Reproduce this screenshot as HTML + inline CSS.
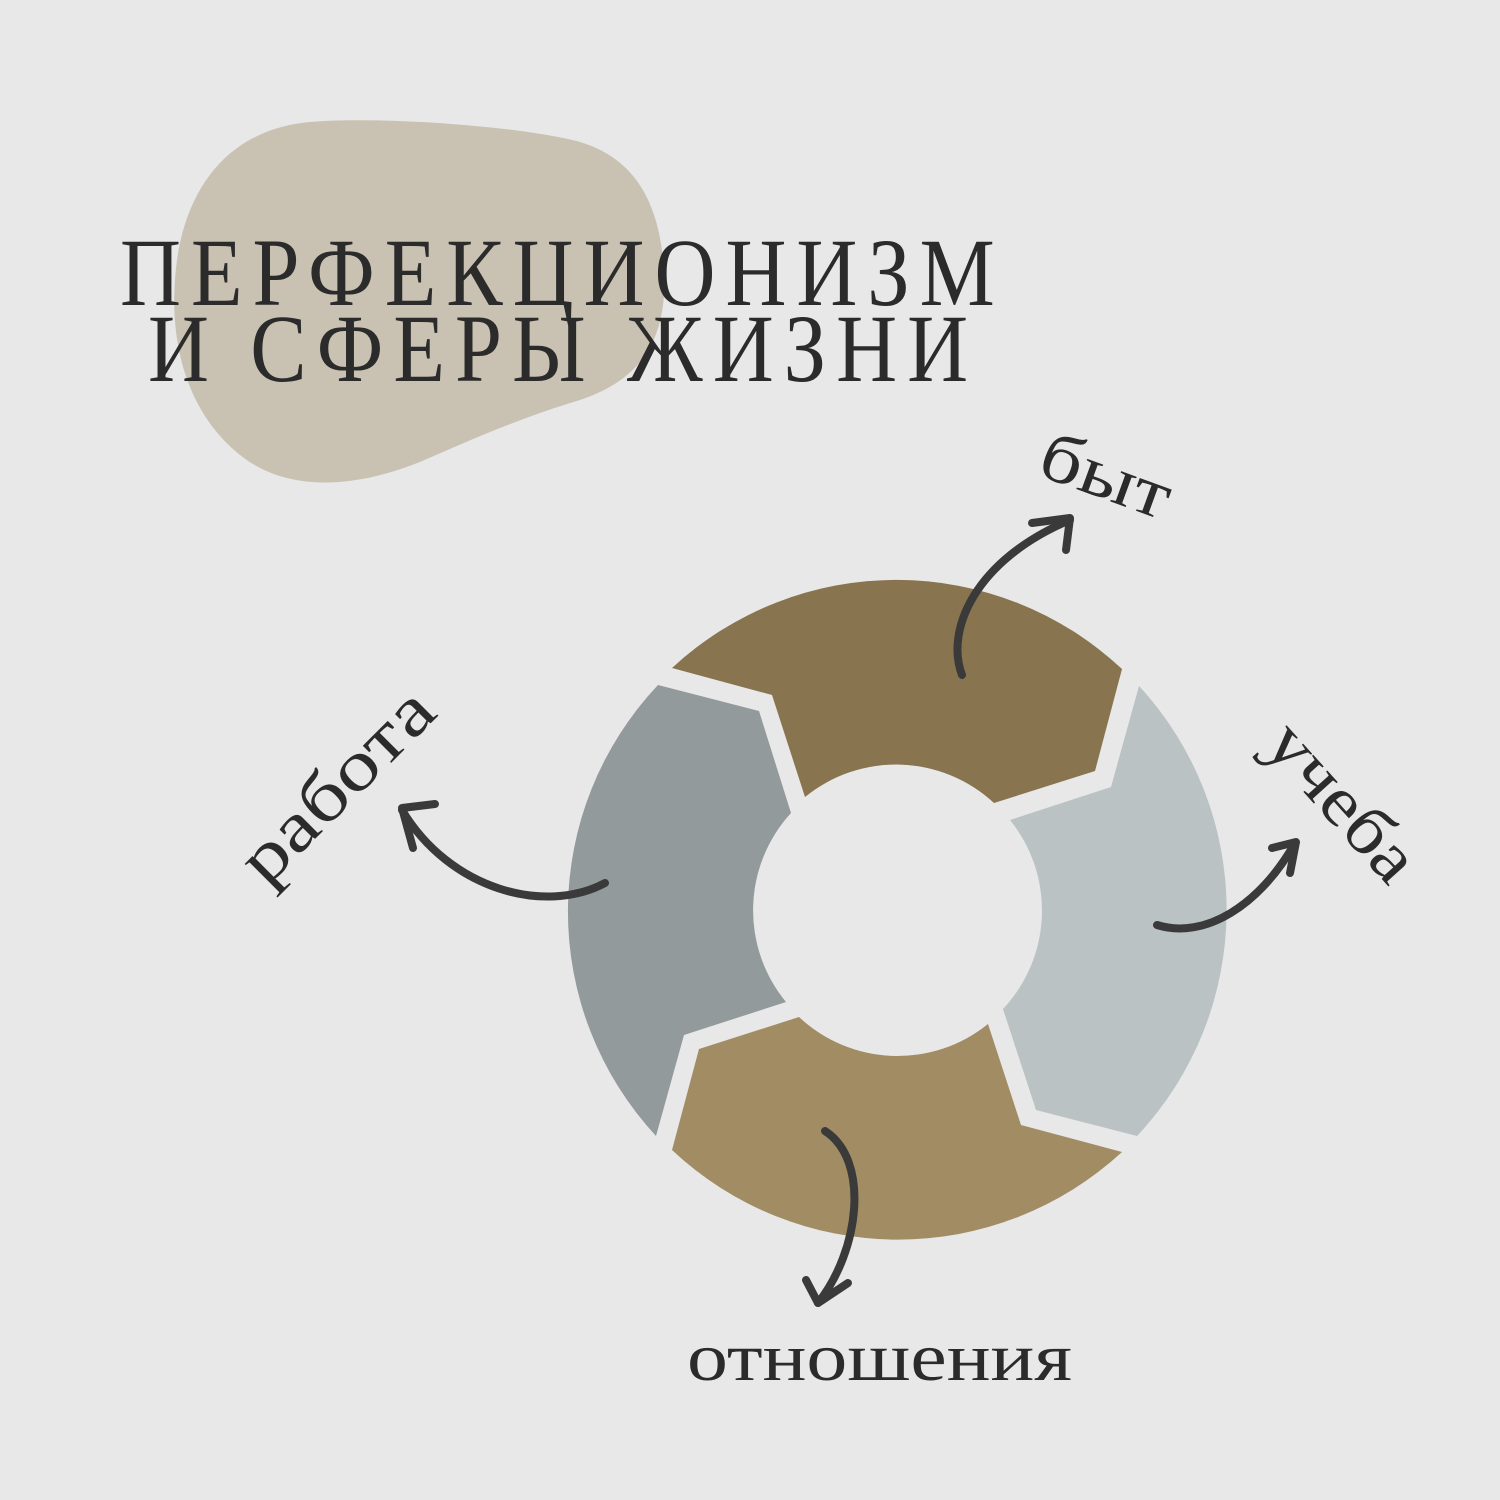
<!DOCTYPE html>
<html><head><meta charset="utf-8"><style>
html,body{margin:0;padding:0;background:#e8e8e8;}
svg{display:block}
text{font-family:"Liberation Serif","Noto Serif CJK SC",serif;fill:#2b2b2b}
</style></head><body>
<svg width="1500" height="1500" viewBox="0 0 1500 1500" xmlns="http://www.w3.org/2000/svg">
<rect width="1500" height="1500" fill="#e8e8e8"/>
<path d="M310,122 C380,116 520,126 580,142 C640,160 660,210 664,270 C668,340 640,380 580,400 C520,418 470,440 420,462 C360,486 290,495 240,455 C190,415 170,350 175,280 C180,200 220,130 310,122 Z" fill="#c9c1b2"/>
<g transform="scale(0.88,1)">
<text x="136.4" y="305" font-size="96" textLength="994" lengthAdjust="spacing">ПЕРФЕКЦИОНИЗМ</text>
<text x="168.2" y="381" font-size="96" textLength="932" lengthAdjust="spacing">И СФЕРЫ ЖИЗНИ</text>
</g>

<path d="M672,668 L772,695 L805,797 A144,144 0 0 1 994,803 L1095,771 L1122,669 A330,330 0 0 0 672,668 Z" fill="#88744e"/>
<path d="M1139,686 L1111,787 L1010,820 A144,144 0 0 1 1003,1009 L1036,1110 L1137,1136 A330,330 0 0 0 1139,686 Z" fill="#bac2c4"/>
<path d="M988,1024 L1021,1125 L1122,1152 A330,330 0 0 1 672,1150 L699,1049 L799,1017 A144,144 0 0 0 988,1024 Z" fill="#a28c64"/>
<path d="M786,1002 L684,1035 L656,1136 A330,330 0 0 1 658,685 L759,711 L791,813 A144,144 0 0 0 786,1002 Z" fill="#929a9b"/>

<g fill="none" stroke="#3a3a3a" stroke-width="8" stroke-linecap="round" stroke-linejoin="round">
<path d="M962,675 C945,630 975,560 1070,520"/>
<path d="M1032,523 L1070,518 L1066,550"/>
<path d="M605,883 C545,915 450,890 402,810"/>
<path d="M435,804 L402,808 L413,848"/>
<path d="M1157,925 C1205,940 1260,905 1295,843"/>
<path d="M1272,848 L1296,842 L1290,873"/>
<path d="M825,1131 C870,1160 860,1250 818,1303"/>
<path d="M806,1280 L818,1303 L848,1283"/>
</g>

<text x="1035" y="474" font-size="70" transform="rotate(20 1035 474)" textLength="135" lengthAdjust="spacingAndGlyphs">быт</text>
<text x="1262" y="746" font-size="70" transform="rotate(48 1262 746)" textLength="190" lengthAdjust="spacingAndGlyphs">учеба</text>
<text x="266" y="888" font-size="70" transform="rotate(-45 266 888)" textLength="245" lengthAdjust="spacingAndGlyphs">работа</text>
<text x="687" y="1380" font-size="68" textLength="385" lengthAdjust="spacingAndGlyphs">отношения</text>
</svg>
</body></html>
